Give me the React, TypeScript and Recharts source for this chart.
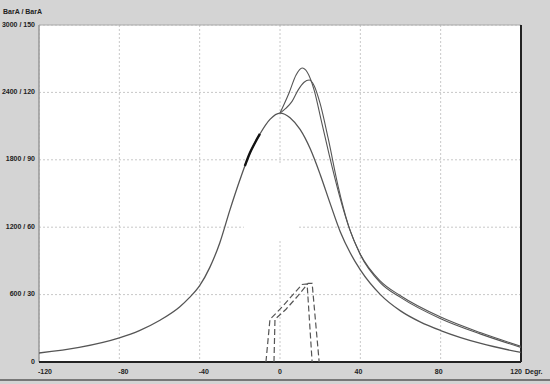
import React from 'react';
import {CartesianGrid, ComposedChart, Line, ReferenceArea, ReferenceLine, XAxis, YAxis} from 'recharts';

// tick labels
const xTicks = [-120, -80, -40, 0, 40, 80, 120];
const yTicks = [0, 600, 1200, 1800, 2400, 3000];
const yLabels = ['0', '600 / 30', '1200 / 60', '1800 / 90', '2400 / 120', '3000 / 150'];

// curve A (symmetric peak at 0)
const aDeg = [-120, -100, -80, -70, -60, -50, -45, -40, -35, -30, -25, -20, -17, -15, -10, -5, 0, 5, 10, 15, 20, 25, 30, 35, 40, 50, 60, 70, 80, 100, 120];
const aVal = [80, 130, 215, 280, 370, 490, 575, 680, 840, 1060, 1350, 1620, 1770, 1860, 2030, 2160, 2216, 2175, 2070, 1900, 1670, 1410, 1160, 970, 820, 600, 455, 355, 280, 165, 85];

// curve B (highest peak)
const bDeg = [0, 4.5, 8, 11, 13.5, 17, 20.5, 24.5, 29.5, 34.5, 40, 50, 60, 80, 100, 120];
const bVal = [2216, 2395, 2555, 2617, 2582, 2421, 2154, 1843, 1487, 1190, 960, 720, 590, 400, 260, 140];

// curve C (second peak)
const cDeg = [0, 3, 6, 9, 12, 14.5, 17, 20, 24, 29, 34, 40, 50, 60, 80, 100, 120];
const cVal = [2216, 2260, 2320, 2420, 2490, 2510, 2460, 2300, 1990, 1560, 1220, 955, 705, 575, 385, 248, 130];

// dashed curves (small)
const dDeg = [-7, -5, 0, 5, 11, 13.5, 16];
const dVal = [0, 380, 470, 570, 690, 695, 0];
const eDeg = [-3, -2.5, 3, 9, 14, 16, 19.5];
const eVal = [0, 380, 470, 590, 700, 700, 0];

// thick marker on A
const mDeg = [-17.5, -15, -12.5, -10];
const mVal = [1745, 1860, 1950, 2030];

const toData = (xs: number[], ys: number[]) => xs.map((x, i) => ({x, v: ys[i]}));

const FONT = {fontFamily: '"Liberation Sans", Arial, sans-serif', fontWeight: 700, fontSize: 7, fill: '#222'};

const YTick = (props: any) => {
  const {y, payload} = props;
  const idx = yTicks.indexOf(payload.value);
  return <text x={35} y={y + 1.5} textAnchor="end" style={FONT}>{yLabels[idx]}</text>;
};

const XTick = (props: any) => {
  const {x, payload} = props;
  const v = payload.value;
  const ty = 373.5;
  if (v === 120) {
    return (
      <g>
        <text x={x + 1} y={ty} textAnchor="end" style={FONT}>120</text>
        <text x={x + 4} y={ty} textAnchor="start" style={FONT}>Degr.</text>
      </g>
    );
  }
  const anchor = v < 0 ? 'start' : v === 0 ? 'middle' : 'end';
  const dx = v < 0 ? -1 : v === 0 ? 0 : 2;
  return <text x={x + dx} y={ty} textAnchor={anchor} style={FONT}>{String(v)}</text>;
};

const App = () => {
  const lineColor = '#555';
  return (
    <div style={{position: 'absolute', left: 0, top: 0, width: 550, height: 384, background: '#d4d4d4', overflow: 'hidden'}}>
      <div style={{position: 'absolute', left: 3, top: 8, fontFamily: FONT.fontFamily, fontWeight: 700, fontSize: 7, color: '#222'}}>BarA / BarA</div>
      <div style={{position: 'absolute', left: 0, top: 379, width: 550, height: 2, background: '#777'}}/>
      <ComposedChart width={550} height={384} margin={{top: 25, right: 29, bottom: 0, left: 0}}>
        <CartesianGrid fill="#fff" fillOpacity={1} stroke="#c8c8c8" strokeDasharray="2 2"/>
        <XAxis
          dataKey="x"
          type="number"
          domain={[-120, 120]}
          ticks={xTicks}
          height={22}
          axisLine={false}
          tickLine={false}
          tick={<XTick/>}
          allowDataOverflow
        />
        <YAxis
          type="number"
          domain={[0, 3000]}
          ticks={yTicks}
          width={39}
          axisLine={false}
          tickLine={false}
          tick={<YTick/>}
          allowDataOverflow
        />
        <ReferenceArea x1={-18} x2={9} y1={1090} y2={1760} fill="#fff" fillOpacity={1} stroke="none"/>
        <ReferenceLine y={3000} stroke="#aaa" strokeWidth={1}/>
        <ReferenceLine x={-120} stroke="#999" strokeWidth={1.5}/>
        <ReferenceLine x={120} stroke="#222" strokeWidth={2}/>
        <ReferenceLine y={0} stroke="#222" strokeWidth={2}/>
        <Line data={toData(aDeg, aVal)} dataKey="v" type="monotone" stroke={lineColor} strokeWidth={1.3} dot={false} isAnimationActive={false}/>
        <Line data={toData(bDeg, bVal)} dataKey="v" type="monotone" stroke={lineColor} strokeWidth={1.1} dot={false} isAnimationActive={false}/>
        <Line data={toData(cDeg, cVal)} dataKey="v" type="monotone" stroke={lineColor} strokeWidth={1.1} dot={false} isAnimationActive={false}/>
        <Line data={toData(dDeg, dVal)} dataKey="v" type="linear" stroke={lineColor} strokeWidth={1.2} strokeDasharray="6 3" dot={false} isAnimationActive={false}/>
        <Line data={toData(eDeg, eVal)} dataKey="v" type="linear" stroke={lineColor} strokeWidth={1.2} strokeDasharray="6 3" dot={false} isAnimationActive={false}/>
        <Line data={toData(mDeg, mVal)} dataKey="v" type="monotone" stroke="#111" strokeWidth={2.4} dot={false} isAnimationActive={false}/>
      </ComposedChart>
    </div>
  );
};

export default App;
